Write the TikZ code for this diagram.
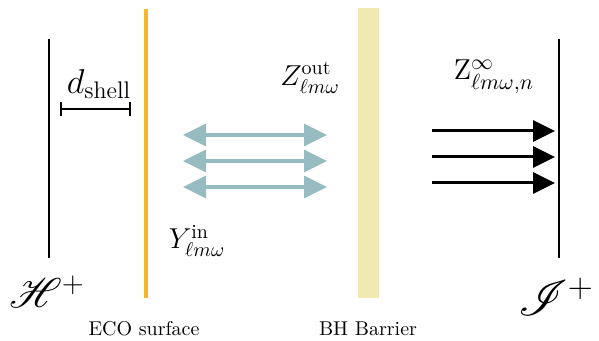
\documentclass[tikz,border=0pt]{standalone}
\usepackage{amsmath, amssymb}
\usepackage{mathrsfs}
\usepackage{tikz}
\usetikzlibrary{arrows.meta}
\definecolor{ecoorange}{HTML}{F7B52C}
\definecolor{barrierbeige}{HTML}{F1E9B4}
\definecolor{waveteal}{HTML}{96BCC2}
\tikzset{
    wave/.style={draw=waveteal, line width=1.6pt, {Triangle[length=11.5pt, width=11pt]}-{Triangle[length=11.5pt, width=11pt]}},
    flux/.style={draw=black, line width=1.5pt, -{Triangle[length=11pt, width=10.5pt]}},
    label/.style={inner sep=1pt, font=\Large}}

\begin{document}
\begin{tikzpicture}[x=0.5pt, y=-0.5pt]

            \useasboundingbox (0,0) rectangle (599,341);

            \coordinate (Htop) at (49,39);
            \coordinate (Hbot) at (49,258);
            \coordinate (Itop) at (559,39);
            \coordinate (Ibot) at (559,258);
            \coordinate (Etop) at (146,9);
            \coordinate (Ebot) at (146,298);

            \draw[line width=1pt] (Htop) -- (Hbot);
            \draw[line width=1pt] (Itop) -- (Ibot);
            \draw[ecoorange, line width=1.6pt] (Etop) -- (Ebot);
            \fill[barrierbeige] (358,8) rectangle (379,298);

            \node[label, font=\fontsize{20.5}{24}\selectfont] (H) at (47,292) {$\mathscr{H}^+$};
            \node[label, font=\fontsize{23}{27}\selectfont] (I) at (556,297) {$\mathscr{I}^+$};
            \node[inner sep=1pt] (eco) at (144,329) {ECO surface};
            \node[inner sep=1pt] (bh) at (368,329) {BH Barrier};

            \node[label, font=\LARGE] (dshell) at (99,84) {$d_{\text{shell}}$};
            \coordinate (dl) at (60,109);
            \coordinate (dr) at (131,109);
            \draw[line width=0.8pt, {Bar[width=7pt]}-{Bar[width=7pt]}] (dl) -- (dr);

            \node[label] (Zout) at (310,78) {$Z^{\text{out}}_{\ell m\omega}$};
            \node[label] (Yin) at (197,241) {$Y^{\text{in}}_{\ell m\omega}$};
            \node[label, font=\fontsize{15.6}{18}\selectfont] (Zinf) at (494,77) {$\mathrm{Z}^{\infty}_{\ell m\omega,n}$};

            \foreach \y [count=\i] in {135,161,187} {
                \coordinate (wl\i) at (183,\y);
                \coordinate (wr\i) at (327,\y);
                \draw[wave] (wl\i) -- (wr\i);
            }
            \foreach \y [count=\i] in {131,157,183} {
                \coordinate (fl\i) at (432,\y);
                \coordinate (fr\i) at (555,\y);
                \draw[flux] (fl\i) -- (fr\i);
            }

        \end{tikzpicture}
\end{document}
